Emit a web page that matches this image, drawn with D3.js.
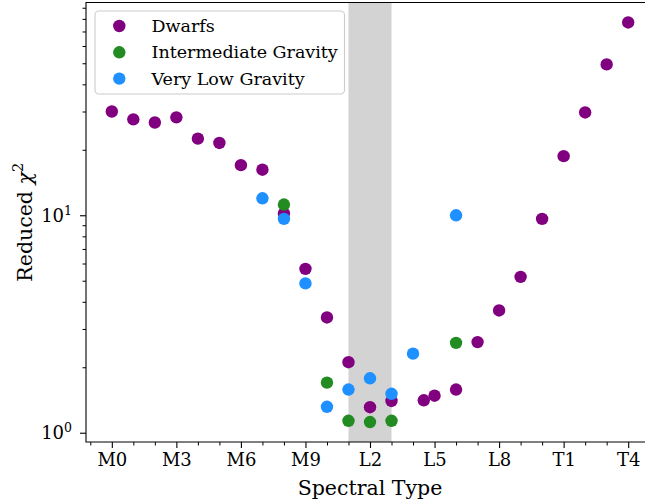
<!DOCTYPE html>
<html>
<head>
<meta charset="utf-8">
<script src="https://cdn.jsdelivr.net/npm/d3@7"></script>
<style>
  body { margin: 0; background: #fff; }
  svg { display: block; }
  text { font-family: "DejaVu Serif", serif; fill: #000; }
</style>
</head>
<body>
<svg id="chart" width="645" height="503"></svg>
<script>
// spectral types on the x axis, reduced chi^2 on a log y axis
const tickTypes = ["M0", "M3", "M6", "M9", "L2", "L5", "L8", "T1", "T4"];

const dwarfTypes = ["M0","M1","M2","M3","M4","M5","M6","M7","M8","M9",
                    "L0","L1","L2","L3","L4.5","L5","L6","L7","L8","L9",
                    "T0","T1","T2","T3","T4"];
const dwarfChi2  = [30.0, 27.6, 26.7, 28.2, 22.5, 21.5, 17.0, 16.2, 10.2, 5.67,
                    3.39, 2.11, 1.31, 1.40, 1.41, 1.48, 1.58, 2.61, 3.65, 5.21,
                    9.62, 18.7, 29.7, 49.4, 77.0];

const intTypes = ["M8", "L0", "L1", "L2", "L3", "L6"];
const intChi2  = [11.2, 1.70, 1.135, 1.12, 1.135, 2.59];

const vlgTypes = ["M7", "M8", "M9", "L0", "L1", "L2", "L3", "L4", "L6"];
const vlgChi2  = [11.97, 9.62, 4.86, 1.316, 1.58, 1.78, 1.51, 2.31, 10.0];

const shadeTypes = ["L1", "L3"];

const seriesNames  = ["Dwarfs", "Intermediate Gravity", "Very Low Gravity"];
const seriesColors = ["#800080", "#228b22", "#1e90ff"];

const serif = "'DejaVu Serif', serif";
const classOffset = { M: 0, L: 10, T: 20 };
const typeNum = s => classOffset[s[0]] + parseFloat(s.slice(1));

const series = [
  { name: seriesNames[0], color: seriesColors[0], pts: dwarfTypes.map((t, i) => ({ t: typeNum(t), v: dwarfChi2[i] })) },
  { name: seriesNames[1], color: seriesColors[1], pts: intTypes.map((t, i) => ({ t: typeNum(t), v: intChi2[i] })) },
  { name: seriesNames[2], color: seriesColors[2], pts: vlgTypes.map((t, i) => ({ t: typeNum(t), v: vlgChi2[i] })) }
];

const svg = d3.select("#chart");
const plotL = 86, plotR = 654, plotT = 2.5, plotB = 442;

// 5% margins like matplotlib autoscale
const allPts = series.flatMap(s => s.pts);
const [tMin, tMax] = d3.extent(allPts, d => d.t);
const tPad = (tMax - tMin) * 0.05;
const x = d3.scaleLinear().domain([tMin - tPad, tMax + tPad]).range([plotL, plotR]);

const [lMin, lMax] = d3.extent(allPts, d => Math.log10(d.v));
const lPad = (lMax - lMin) * 0.05;
const y = d3.scaleLog().domain([10 ** (lMin - lPad), 10 ** (lMax + lPad)]).range([plotB, plotT]);

// shaded span
svg.append("rect")
  .attr("x", x(typeNum(shadeTypes[0])))
  .attr("y", plotT)
  .attr("width", x(typeNum(shadeTypes[1])) - x(typeNum(shadeTypes[0])))
  .attr("height", plotB - plotT)
  .attr("fill", "#d3d3d3");

// points
series.forEach(s => {
  svg.append("g").selectAll("circle")
    .data(s.pts)
    .enter().append("circle")
    .attr("cx", d => x(d.t))
    .attr("cy", d => y(d.v))
    .attr("r", 6.2)
    .attr("fill", s.color);
});

// x axis
const xMajor = tickTypes.map(typeNum);
const xMinor = d3.range(Math.ceil(x.domain()[0]), Math.floor(x.domain()[1]) + 1).filter(v => !xMajor.includes(v));

svg.append("g")
  .attr("transform", `translate(0,${plotB})`)
  .call(d3.axisBottom(x).tickValues(xMinor).tickFormat("").tickSize(3.5).tickSizeOuter(0))
  .call(g => g.select(".domain").remove());

const xAxis = svg.append("g")
  .attr("transform", `translate(0,${plotB})`)
  .call(d3.axisBottom(x).tickValues(xMajor).tickFormat((d, i) => tickTypes[i]).tickSize(6).tickSizeOuter(0).tickPadding(5));
xAxis.select(".domain").remove();
xAxis.selectAll("text").style("font-size", "18px").style("font-family", serif);
xAxis.selectAll("line").attr("stroke-width", 1.1);

// y axis
const yMajor = [1, 10];
const yMinor = [2,3,4,5,6,7,8,9,20,30,40,50,60,70,80,90].filter(v => v >= y.domain()[0] && v <= y.domain()[1]);

svg.append("g")
  .attr("transform", `translate(${plotL},0)`)
  .call(d3.axisLeft(y).tickValues(yMinor).tickFormat("").tickSize(3.5).tickSizeOuter(0))
  .call(g => g.select(".domain").remove());

const yAxis = svg.append("g")
  .attr("transform", `translate(${plotL},0)`)
  .call(d3.axisLeft(y).tickValues(yMajor).tickFormat("").tickSize(6).tickSizeOuter(0));
yAxis.select(".domain").remove();
yAxis.selectAll("line").attr("stroke-width", 1.1);

yMajor.forEach(v => {
  const t = svg.append("text")
    .attr("x", plotL - 14)
    .attr("y", y(v) + 6.5)
    .attr("text-anchor", "end")
    .style("font-family", serif)
    .style("font-size", "18px");
  t.append("tspan").text("10");
  t.append("tspan").attr("dy", -7).style("font-size", "12.5px").text(Math.round(Math.log10(v)));
});

// spines
svg.append("path")
  .attr("d", `M${plotR},${plotT}H${plotL}V${plotB}H${plotR}`)
  .attr("fill", "none")
  .attr("stroke", "#000")
  .attr("stroke-width", 1.1);

// axis labels
svg.append("text")
  .attr("x", (plotL + plotR) / 2)
  .attr("y", 495)
  .attr("text-anchor", "middle")
  .style("font-family", serif)
  .style("font-size", "20.5px")
  .text("Spectral Type");

const yl = svg.append("text")
  .attr("transform", `translate(32,${(plotT + plotB) / 2}) rotate(-90)`)
  .attr("text-anchor", "middle")
  .style("font-family", serif)
  .style("font-size", "20.5px");
yl.append("tspan").text("Reduced ");
yl.append("tspan").style("font-style", "italic").text("χ");
yl.append("tspan").attr("dy", -9).style("font-size", "14.5px").text("2");

// legend
const legend = svg.append("g");
legend.append("rect")
  .attr("x", 95).attr("y", 11)
  .attr("width", 249.5).attr("height", 83)
  .attr("rx", 4)
  .attr("fill", "#fff").attr("fill-opacity", 0.8)
  .attr("stroke", "#cccccc").attr("stroke-width", 1.1);

series.forEach((s, i) => {
  const cy = 26 + i * 26.3;
  legend.append("circle").attr("cx", 119.3).attr("cy", cy).attr("r", 6.2).attr("fill", s.color);
  legend.append("text")
    .attr("x", 151.5).attr("y", cy + 6)
    .style("font-family", serif)
    .style("font-size", "17.5px")
    .text(s.name);
});
</script>
</body>
</html>
